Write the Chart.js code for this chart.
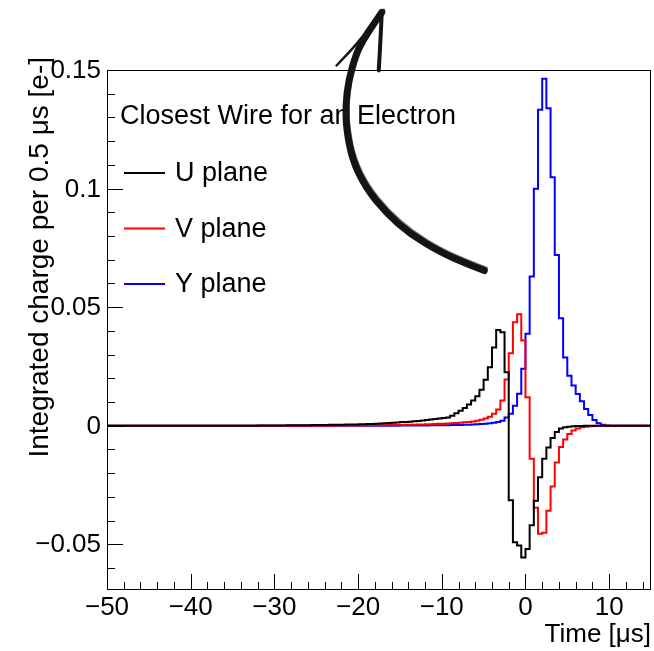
<!DOCTYPE html>
<html>
<head>
<meta charset="utf-8">
<script src="https://cdn.jsdelivr.net/npm/chart.js@4.4.1/dist/chart.umd.min.js"></script>
<style>
  html, body { margin: 0; padding: 0; background: #fff; }
  #wrap { width: 654px; height: 651px; }
</style>
</head>
<body>
<div id="wrap"><canvas id="wireCanvas" width="654" height="651"></canvas></div>
<script>
// histogram binning: 130 bins of 0.5 us from -50 to 15
const binStart = -50;
const binWidth = 0.5;

// integrated charge per bin, U plane (induction)
const uPlane = [
  0, 0, 0, 0, 0, 0, 0, 0, 0, 0,
  0, 0, 0, 0, 0, 0, 0, 0, 0, 0,
  0, 0, 0, 0, 0, 0, 0, 0, 0, 0,
  0, 0, 0, 0, 0, 0, 0.0001, 0.0001, 0.0001, 0.0001,
  0.0001, 0.0001, 0.0001, 0.0002, 0.0002, 0.0002, 0.0002, 0.0002, 0.0002, 0.0003,
  0.0003, 0.0003, 0.0003, 0.0004, 0.0004, 0.0004, 0.0004, 0.0005, 0.0005, 0.0005,
  0.0006, 0.0006, 0.0007, 0.0007, 0.0008, 0.0009, 0.001, 0.0011, 0.0012, 0.0013,
  0.0015, 0.0016, 0.0017, 0.0019, 0.002, 0.0022, 0.0024, 0.0026, 0.0028, 0.003,
  0.0032, 0.0035, 0.0042, 0.0052, 0.0063, 0.0075, 0.0089, 0.0106, 0.0124, 0.0151,
  0.0194, 0.0246, 0.033, 0.0404, 0.0394, 0.0225, -0.0315, -0.0492, -0.0505, -0.0556,
  -0.052, -0.042, -0.0317, -0.0218, -0.0139, -0.0092, -0.0052, -0.0027, -0.0012, -0.0007,
  -0.0004, -0.0002, -0.0001, -0.0001, 0, 0, 0, 0, 0, 0,
  0, 0, 0, 0, 0, 0, 0, 0, 0, 0
];

// V plane (induction)
const vPlane = [
  0, 0, 0, 0, 0, 0, 0, 0, 0, 0,
  0, 0, 0, 0, 0, 0, 0, 0, 0, 0,
  0, 0, 0, 0, 0, 0, 0, 0, 0, 0,
  0, 0, 0, 0, 0, 0, 0, 0, 0, 0,
  0, 0, 0, 0, 0, 0, 0, 0, 0, 0,
  0, 0, 0, 0, 0.0001, 0.0001, 0.0001, 0.0001, 0.0001, 0.0001,
  0.0001, 0.0001, 0.0002, 0.0002, 0.0002, 0.0002, 0.0002, 0.0003, 0.0003, 0.0003,
  0.0003, 0.0004, 0.0004, 0.0004, 0.0005, 0.0005, 0.0006, 0.0006, 0.0007, 0.0008,
  0.0008, 0.0009, 0.001, 0.0011, 0.0012, 0.0014, 0.0016, 0.0018, 0.0021, 0.0025,
  0.003, 0.0038, 0.005, 0.0068, 0.0106, 0.0195, 0.0305, 0.0436, 0.047, 0.0359,
  0.012, -0.0139, -0.0346, -0.0456, -0.0452, -0.0359, -0.0257, -0.0155, -0.009, -0.0058,
  -0.0035, -0.002, -0.0012, -0.0007, -0.0004, -0.0002, -0.0001, -0.0001, 0, 0,
  0, 0, 0, 0, 0, 0, 0, 0, 0, 0
];

// Y plane (collection)
const yPlane = [
  0, 0, 0, 0, 0, 0, 0, 0, 0, 0,
  0, 0, 0, 0, 0, 0, 0, 0, 0, 0,
  0, 0, 0, 0, 0, 0, 0, 0, 0, 0,
  0, 0, 0, 0, 0, 0, 0, 0, 0, 0,
  0, 0, 0, 0, 0, 0, 0, 0, 0, 0,
  0, 0, 0, 0, 0, 0, 0, 0, 0, 0,
  0, 0, 0, 0, 0, 0, 0, 0, 0, 0,
  0.0001, 0.0001, 0.0001, 0.0001, 0.0001, 0.0001, 0.0001, 0.0002, 0.0002, 0.0002,
  0.0002, 0.0002, 0.0003, 0.0003, 0.0003, 0.0004, 0.0004, 0.0005, 0.0006, 0.0007,
  0.0008, 0.001, 0.0012, 0.0015, 0.0021, 0.0035, 0.005, 0.0084, 0.0135, 0.024,
  0.0388, 0.0629, 0.0999, 0.1332, 0.1463, 0.1339, 0.1048, 0.072, 0.0453, 0.0288,
  0.0211, 0.0169, 0.0134, 0.0103, 0.007, 0.0045, 0.0024, 0.001, 0.0004, 0.0001,
  0, 0, 0, 0, 0, 0, 0, 0, 0, 0
];

const planeNames = ['U plane', 'V plane', 'Y plane'];
const planeColors = ['#000000', '#ff0000', '#0000ff'];

const xTicks = [-50, -40, -30, -20, -10, 0, 10];
const yTicks = [-0.05, 0, 0.05, 0.1, 0.15];
const yTickLabels = ['\u22120.05', '0', '0.05', '0.1', '0.15'];

// hand-drawn arrow, in (time, charge) coordinates
const arrowStroke = [
  [-17.17, 0.1743], [-18.25, 0.1688], [-19.45, 0.1624], [-20.29, 0.1561],
  [-21.13, 0.1456], [-21.49, 0.135], [-21.37, 0.1245], [-20.65, 0.1118],
  [-19.09, 0.1004], [-16.69, 0.0899], [-13.69, 0.0806], [-10.08, 0.073],
  [-7.08, 0.0684], [-4.92, 0.0654]
];
const arrowBarbRight = [[-17.17, 0.1743], [-17.3, 0.164], [-17.53, 0.1498]];
const arrowBarbLeft = [[-17.4, 0.1735], [-19.6, 0.163], [-22.57, 0.1519]];

function toSteps(values) {
  const pts = values.map((v, i) => ({ x: binStart + i * binWidth, y: v }));
  pts.push({ x: binStart + values.length * binWidth, y: values[values.length - 1] });
  return pts;
}

const FONT = '"Liberation Sans", Arial, Helvetica, sans-serif';

const rootFrame = {
  id: 'rootFrame',
  afterDatasetsDraw(chart) {
    const { ctx, chartArea: a, scales: { x, y } } = chart;
    ctx.save();
    ctx.strokeStyle = '#000';
    ctx.lineWidth = 1;
    ctx.strokeRect(a.left + 0.5, a.top + 0.5, a.right - a.left - 1, a.bottom - a.top - 1);

    // x ticks: major every 10, minor every 2
    ctx.beginPath();
    for (let t = -50; t <= 15; t += 2) {
      const px = Math.round(x.getPixelForValue(t)) + 0.5;
      const len = (t % 10 === 0) ? 16 : 8;
      ctx.moveTo(px, a.bottom);
      ctx.lineTo(px, a.bottom - len);
    }
    // y ticks: major every 0.05, minor every 0.01
    for (let k = -6; k <= 15; k++) {
      const py = Math.round(y.getPixelForValue(k / 100)) + 0.5;
      const len = (k % 5 === 0) ? 16 : 8;
      ctx.moveTo(a.left, py);
      ctx.lineTo(a.left + len, py);
    }
    ctx.stroke();

    ctx.fillStyle = '#000';
    ctx.font = '26px ' + FONT;
    ctx.textAlign = 'center';
    ctx.textBaseline = 'top';
    xTicks.forEach(t => {
      const label = t < 0 ? '\u2212' + Math.abs(t) : String(t);
      ctx.fillText(label, x.getPixelForValue(t), a.bottom + 5);
    });
    ctx.textAlign = 'right';
    ctx.textBaseline = 'middle';
    yTicks.forEach((v, i) => {
      ctx.fillText(yTickLabels[i], a.left - 6, y.getPixelForValue(v) + 1);
    });

    // axis titles
    ctx.textAlign = 'right';
    ctx.textBaseline = 'alphabetic';
    ctx.fillText('Time [\u03bcs]', a.right, 642);
    ctx.save();
    ctx.font = '28px ' + FONT;
    ctx.translate(48, a.top - 13);
    ctx.rotate(-Math.PI / 2);
    ctx.fillText('Integrated charge per 0.5 \u03bcs [e-]', 0, 0);
    ctx.restore();

    // legend
    ctx.textAlign = 'left';
    ctx.textBaseline = 'middle';
    ctx.font = '27px ' + FONT;
    ctx.fillText('Closest Wire for an Electron', 120, 117);
    planeNames.forEach((name, i) => {
      const ly = 173 + i * 55.5;
      ctx.strokeStyle = planeColors[i];
      ctx.lineWidth = 2;
      ctx.beginPath();
      ctx.moveTo(124, ly);
      ctx.lineTo(165, ly);
      ctx.stroke();
      ctx.fillText(name, 175, ly + 1);
    });
    ctx.restore();
  },
  afterDraw(chart) {
    const { ctx, scales: { x, y } } = chart;
    // smooth stroke through the given points (quadratic through midpoints)
    const curve = (pts, w) => {
      const p = pts.map(([t, v]) => [x.getPixelForValue(t), y.getPixelForValue(v)]);
      ctx.lineWidth = w;
      ctx.beginPath();
      ctx.moveTo(p[0][0], p[0][1]);
      for (let i = 1; i < p.length - 1; i++) {
        const mx = (p[i][0] + p[i + 1][0]) / 2, my = (p[i][1] + p[i + 1][1]) / 2;
        ctx.quadraticCurveTo(p[i][0], p[i][1], mx, my);
      }
      ctx.lineTo(p[p.length - 1][0], p[p.length - 1][1]);
      ctx.stroke();
    };
    ctx.save();
    ctx.strokeStyle = '#141414';
    ctx.lineCap = 'round';
    ctx.lineJoin = 'round';
    curve(arrowStroke, 7);
    ctx.globalAlpha = 0.6;
    curve(arrowStroke.map(([t, v]) => [t + 0.25, v + 0.001]), 3);
    ctx.globalAlpha = 1;
    curve(arrowBarbRight, 4);
    curve(arrowBarbLeft, 2.5);
    ctx.restore();
  }
};

new Chart(document.getElementById('wireCanvas'), {
  type: 'line',
  data: {
    datasets: [uPlane, vPlane, yPlane].map((vals, i) => ({
      label: planeNames[i],
      data: toSteps(vals),
      borderColor: planeColors[i],
      borderWidth: 2,
      stepped: true,
      pointRadius: 0,
      fill: false
    }))
  },
  options: {
    responsive: false,
    animation: false,
    devicePixelRatio: 1,
    layout: { padding: { left: 107, right: 3, top: 70, bottom: 61 } },
    plugins: { legend: { display: false }, tooltip: { enabled: false } },
    scales: {
      x: { type: 'linear', min: -50, max: 15, display: false },
      y: { type: 'linear', min: -0.0693, max: 0.15, display: false }
    }
  },
  plugins: [rootFrame]
});
</script>
</body>
</html>
